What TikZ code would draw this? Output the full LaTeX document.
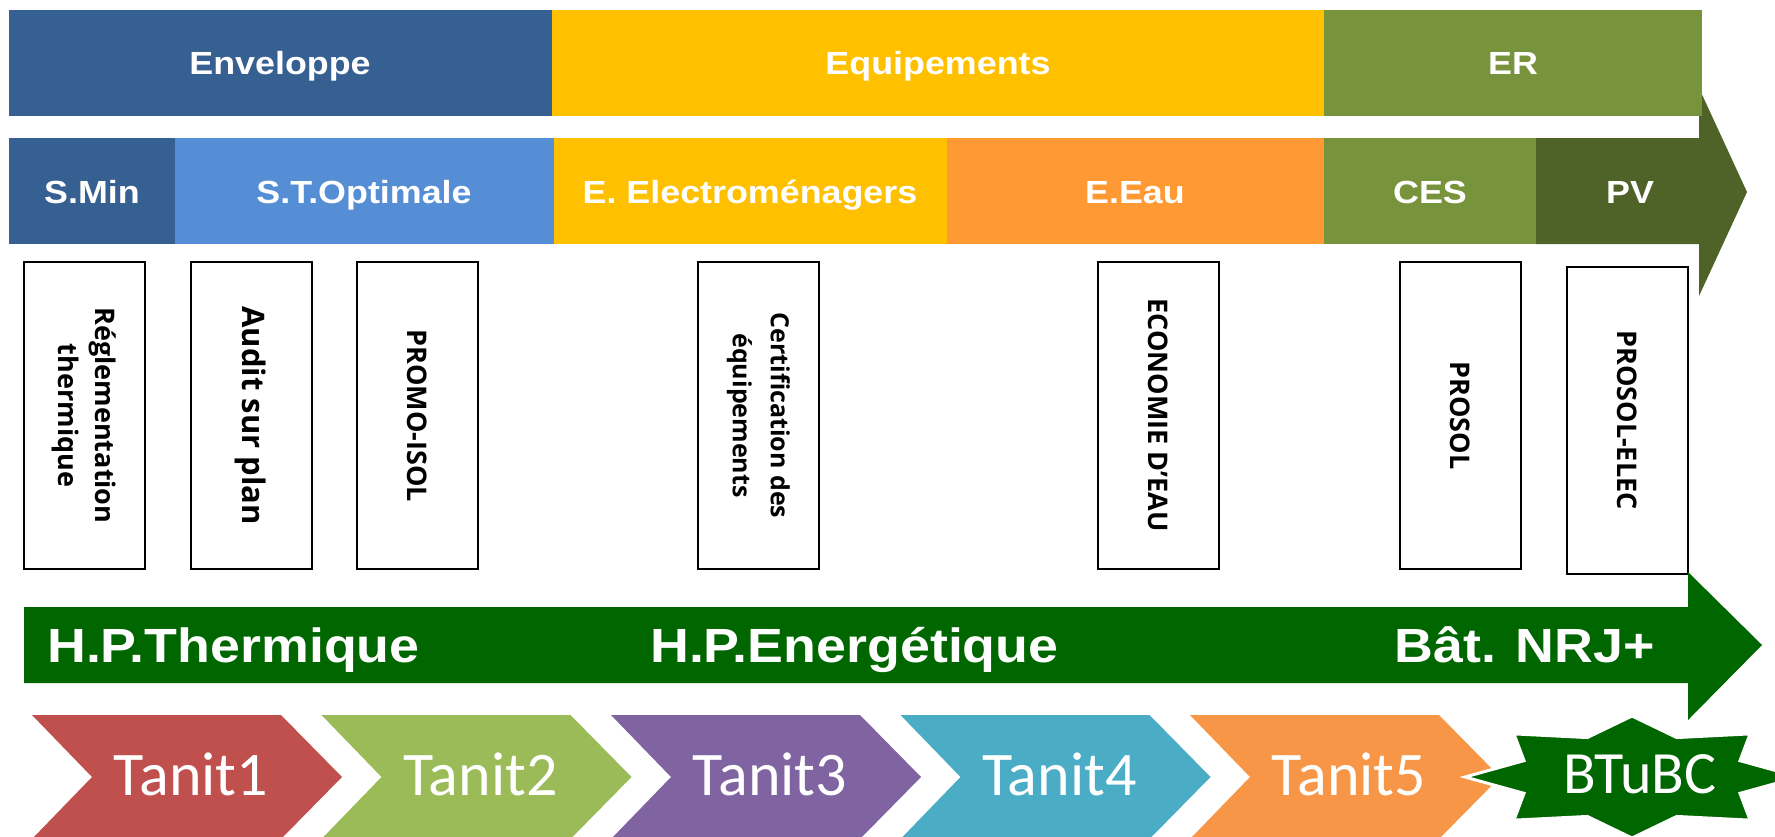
\documentclass[tikz,border=0pt]{standalone}
\usepackage{fontspec}
\setmainfont{Liberation Sans}
\newfontfamily\barfont[FakeStretch=1.12]{Liberation Sans}
\newfontfamily\boxfont{Open Sans}
\newfontfamily\tanitfont{Carlito}
\definecolor{envblue}{HTML}{376092}
\definecolor{stblue}{HTML}{558ED5}
\definecolor{eqyellow}{HTML}{FFC000}
\definecolor{eauorange}{HTML}{FF9933}
\definecolor{ergreen}{HTML}{77933C}
\definecolor{pvgreen}{HTML}{4F6228}
\definecolor{dkgreen}{HTML}{006600}
\definecolor{tred}{HTML}{C0504D}
\definecolor{tgreen}{HTML}{9BBB59}
\definecolor{tpurple}{HTML}{8064A2}
\definecolor{tteal}{HTML}{4BACC6}
\definecolor{torange}{HTML}{F79646}
\tikzset{
  bandtext/.style={text=white, inner sep=0pt, anchor=base, font=\barfont\bfseries\fontsize{32}{38}\selectfont},
  arrowtext/.style={text=white, inner sep=0pt, font=\barfont\bfseries\fontsize{48}{56}\selectfont},
  vbox/.style={draw=black, line width=2pt, fill=white, rotate=-90, align=center, inner sep=0pt,
    minimum width=307pt, minimum height=121pt, font=\boxfont\bfseries\fontsize{27}{37}\selectfont},
  tanit/.style={text=white, inner sep=0pt, anchor=base, font=\tanitfont\fontsize{62}{70}\selectfont},
}
\begin{document}
\begin{tikzpicture}[x=1pt, y=-1pt]
\useasboundingbox (0,0) rectangle (1775,836);
% second row
\fill[envblue] (9,138) rectangle (175,244);
\fill[stblue] (175,138) rectangle (554,244);
\fill[eqyellow] (554,138) rectangle (947,244);
\fill[eauorange] (947,138) rectangle (1324,244);
\fill[ergreen] (1324,138) rectangle (1536,244);
\fill[pvgreen] (1536,138) -- (1699,138) -- (1699,88) -- (1747,192) -- (1699,296) -- (1699,244) -- (1536,244) -- cycle;
% top row
\fill[envblue] (9,10) rectangle (552,116);
\fill[eqyellow] (552,10) rectangle (1324,116);
\fill[ergreen] (1324,10) rectangle (1702,116);
\node[bandtext] (env) at (280,74) {Enveloppe};
\node[bandtext] (equ) at (938,74) {Equipements};
\node[bandtext] (er) at (1513,74) {ER};
\node[bandtext] (smin) at (92,203) {S.Min};
\node[bandtext] (stopt) at (364,203) {S.T.Optimale};
\node[bandtext] (elec) at (750,203) {E. Electroménagers};
\node[bandtext] (eau) at (1135,203) {E.Eau};
\node[bandtext] (ces) at (1430,203) {CES};
\node[bandtext] (pv) at (1630,203) {PV};
% vertical boxes
\node[vbox] (b1) at (84.5,415.5) {Réglementation\\thermique};
\node[vbox, font=\boxfont\bfseries\fontsize{31}{37}\selectfont] (b2) at (251,415.5) {Audit sur plan};
\node[vbox] (b3) at (417,415.5) {PROMO-ISOL};
\node[vbox, font=\boxfont\bfseries\fontsize{25}{38}\selectfont] (b4) at (758.5,415.5) {Certification des\\équipements};
\node[vbox] (b5) at (1158,415) {ECONOMIE D’EAU};
\node[vbox] (b6) at (1460,415.5) {PROSOL};
\node[vbox] (b7) at (1627,420) {PROSOL-ELEC};
% big green arrow
\fill[dkgreen] (24,607) -- (1688,607) -- (1688,572) -- (1762,645) -- (1688,720) -- (1688,683) -- (24,683) -- cycle;
\node[arrowtext, anchor=base west] (hpt) at (47,662) {H.P.Thermique};
\node[arrowtext, anchor=base west] (hpe) at (650,662) {H.P.Energétique};
\node[arrowtext, anchor=base east] (bat) at (1655,662) {Bât. NRJ+};
% chevrons
\foreach \i/\c/\t in {0/tred/Tanit1, 1/tgreen/Tanit2, 2/tpurple/Tanit3, 3/tteal/Tanit4, 4/torange/Tanit5} {
  \pgfmathsetmacro\xl{32+289.5*\i}
  \fill[\c] (\xl,715) -- ++(249,0) -- ++(61,62) -- ++(-61,62) -- ++(-249,0) -- ++(60,-62) -- cycle;
  \node[tanit] (t\i) at (\xl+159,795) {\t};
}
% star
\begin{scope}[shift={(1632,777)}, xscale=167, yscale=61]
\filldraw[fill=dkgreen, draw=white, line width=3pt, line join=miter]
  (0:1) -- (22.5:0.7) -- (45:1) -- (67.5:0.7) -- (90:1) -- (112.5:0.7) -- (135:1) -- (157.5:0.7)
  -- (180:1) -- (202.5:0.7) -- (225:1) -- (247.5:0.7) -- (270:1) -- (292.5:0.7) -- (315:1) -- (337.5:0.7) -- cycle;
\end{scope}
\node[tanit, font=\tanitfont\fontsize{60}{70}\selectfont] (btubc) at (1640,793) {BTuBC};
\end{tikzpicture}
\end{document}
